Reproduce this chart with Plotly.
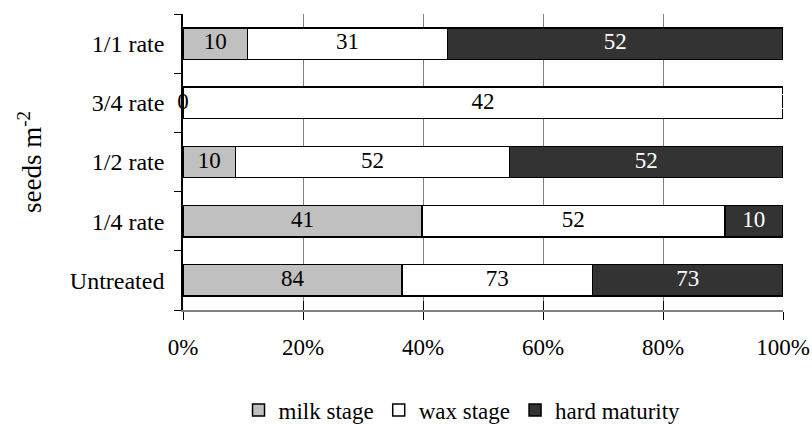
import numpy as np
import plotly.graph_objects as go

# Seed density by growth stage for each herbicide rate (seeds m-2)
categories = ["Untreated", "1/4 rate", "1/2 rate", "3/4 rate", "1/1 rate"]
milk_stage = [84, 41, 10, 0, 10]
wax_stage = [73, 52, 52, 42, 31]
hard_maturity = [73, 10, 52, 0, 52]

series_names = ["milk stage", "wax stage", "hard maturity"]
fill_colors = ["#C0C0C0", "#FFFFFF", "#333333"]
label_colors = ["#000000", "#000000", "#FFFFFF"]

FONT = "Liberation Serif"

values = np.array([milk_stage, wax_stage, hard_maturity], dtype=float)
shares = values / values.sum(axis=0) * 100.0
left_edges = np.vstack([np.zeros(len(categories)), np.cumsum(shares, axis=0)[:-1]])
centres = left_edges + shares / 2.0

fig = go.Figure()

for i, name in enumerate(series_names):
    fig.add_trace(go.Bar(
        y=categories, x=shares[i], name=name, orientation="h",
        marker=dict(color=fill_colors[i], line=dict(color="#000000", width=1.5)),
        hoverinfo="skip",
    ))

# Segment labels (the raw seed counts), centred in each segment
for i, name in enumerate(series_names):
    fig.add_trace(go.Scatter(
        y=categories, x=centres[i], mode="text",
        text=[str(int(v)) for v in values[i]],
        textfont=dict(family=FONT, size=23, color=label_colors[i]),
        textposition="middle center", showlegend=False, cliponaxis=False,
        hoverinfo="skip",
    ))

# Inside tick marks on the value axis, overlaid on the main one
fig.add_trace(go.Scatter(x=[0, 100], y=[categories[0], categories[0]], xaxis="x2",
                         mode="markers", marker=dict(size=0.1, opacity=0),
                         showlegend=False, hoverinfo="skip"))

fig.update_layout(
    width=812, height=425,
    margin=dict(l=183, r=29, t=14, b=115, autoexpand=False),
    paper_bgcolor="white", plot_bgcolor="white",
    barmode="stack", bargap=0.47,
    font=dict(family=FONT, size=24, color="#000000"),
    showlegend=True,
    legend=dict(
        orientation="h", xref="container", yref="container",
        x=0.569, xanchor="center", y=0.035, yanchor="middle",
        font=dict(family=FONT, size=23), itemwidth=30, traceorder="normal",
        itemclick=False, bgcolor="rgba(0,0,0,0)",
    ),
    xaxis=dict(
        range=[0, 100], tickmode="linear", tick0=0, dtick=20, ticksuffix="%",
        showgrid=True, gridcolor="#808080", gridwidth=1,
        showline=True, linecolor="#808080", linewidth=1.5,
        ticks="outside", ticklen=8, tickcolor="#000000", tickwidth=1,
        tickfont=dict(family=FONT, size=23), ticklabelstandoff=8,
        zeroline=False, fixedrange=True, automargin=False,
    ),
    xaxis2=dict(
        range=[0, 100], overlaying="x", side="bottom", tickmode="linear",
        tick0=0, dtick=20, showticklabels=False, showgrid=False, showline=False,
        ticks="inside", ticklen=9, tickcolor="#000000", tickwidth=1,
        zeroline=False, fixedrange=True, automargin=False,
    ),
    yaxis=dict(
        type="category", categoryorder="array", categoryarray=categories,
        range=[-0.5, 4.5], tickson="boundaries",
        showline=True, linecolor="#000000", linewidth=1.5,
        ticks="outside", ticklen=7, tickcolor="#000000", tickwidth=1,
        showgrid=False, tickfont=dict(family=FONT, size=24), ticklabelstandoff=12,
        title=dict(text="seeds m<sup>-2</sup>", font=dict(family=FONT, size=27), standoff=20),
        fixedrange=True, automargin=False,
    ),
)

fig.write_html("out.html")
